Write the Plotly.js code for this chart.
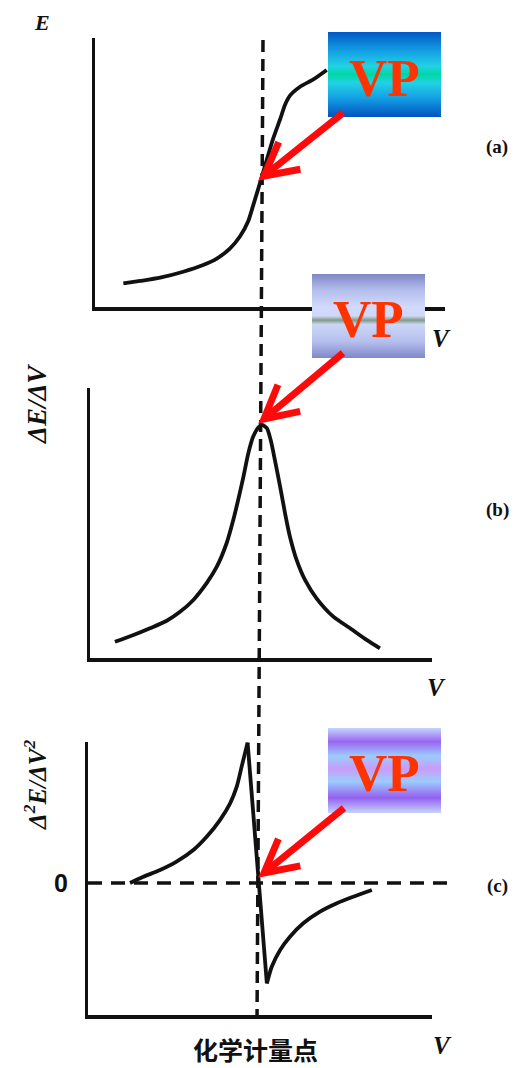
<!DOCTYPE html>
<html>
<head>
<meta charset="utf-8">
<script src="https://cdn.plot.ly/plotly-3.0.1.min.js"></script>
<style>html,body{margin:0;padding:0;background:#fff;}#chart{width:514px;height:1068px;}</style>
</head>
<body>
<div id="chart"></div>
<script>
// ---- Data (schematic; V in arbitrary volume units) ----
// (a) potential E vs titrant volume V
var aV = [0.81, 1.29, 1.86, 2.52, 3.09, 3.48, 3.86, 4.14, 4.38, 4.52, 4.67, 4.81, 4.95, 5.09, 5.29, 5.43, 5.57, 5.86, 6.24, 6.62];
var aE = [0.88, 0.97, 1.09, 1.31, 1.56, 1.80, 2.18, 2.62, 3.20, 3.78, 4.42, 5.04, 5.66, 6.26, 6.98, 7.52, 7.86, 8.19, 8.46, 8.81];
// (b) first derivative dE/dV
var bV = [0.57, 1.10, 1.57, 2.05, 2.43, 2.81, 3.19, 3.48, 3.76, 3.95, 4.09, 4.24, 4.38, 4.52, 4.67, 4.78, 4.91, 5.02, 5.14, 5.29, 5.43, 5.57, 5.76, 6.00, 6.33, 6.81, 7.29, 7.76, 8.14];
var bD = [0.60, 0.85, 1.10, 1.38, 1.71, 2.15, 2.77, 3.38, 4.25, 5.11, 5.85, 6.71, 7.58, 8.20, 8.54, 8.63, 8.51, 8.07, 7.33, 6.34, 5.36, 4.49, 3.63, 2.89, 2.21, 1.53, 1.10, 0.67, 0.36];
// (c) second derivative d2E/dV2 : rising branch, steep drop, recovering branch
var cRiseV = [1.00, 1.38, 1.86, 2.33, 2.81, 3.19, 3.57, 3.86, 4.05, 4.19, 4.36];
var cRiseD = [0.00, 0.23, 0.48, 0.79, 1.22, 1.71, 2.33, 2.95, 3.57, 4.31, 5.20];
var cDropV = [4.36, 4.91];
var cDropD = [5.20, -3.72];
var cRecV  = [4.91, 5.05, 5.29, 5.57, 5.95, 6.43, 6.91, 7.38, 7.91];
var cRecD  = [-3.72, -3.10, -2.48, -1.99, -1.49, -1.06, -0.75, -0.51, -0.26];
// equivalence point (stoichiometric point) volume
var vEq = 4.80;
var vEqBottom = 4.63; // the scanned dashed line leans slightly
// text labels
var panelTags = ['(a)', '(b)', '(c)'];
var yTitles = ['E', 'ΔE/ΔV', 'Δ<sup>2</sup>E/ΔV<sup>2</sup>'];
var xTitle = 'V';
var vpText = 'VP';
var eqLabel = '化学计量点';

// ---- Layout helpers (page is 514 x 1068 px, margins 0) ----
var W = 514, H = 1068;
function px(x) { return x / W; }
function py(y) { return 1 - y / H; }
// common V -> pixel mapping: pixel = 95 + 35 * V
function vToPx(v) { return 95 + 35 * v; }
function pxToV(p) { return (p - 95) / 35; }

function axisBase(extra) {
  var o = {showline: true, linecolor: '#111', linewidth: 3.5, showgrid: false, zeroline: false,
           ticks: '', showticklabels: false, fixedrange: true};
  for (var k in extra) o[k] = extra[k];
  return o;
}

function curveLine(shape) { return {color: '#111', width: 3.8, shape: shape, smoothing: 0.7}; }
var traces = [
  {x: aV, y: aE, xaxis: 'x', yaxis: 'y', mode: 'lines', line: curveLine('spline'), hoverinfo: 'skip'},
  {x: bV, y: bD, xaxis: 'x2', yaxis: 'y2', mode: 'lines', line: curveLine('spline'), hoverinfo: 'skip'},
  {x: cRiseV, y: cRiseD, xaxis: 'x3', yaxis: 'y3', mode: 'lines', line: curveLine('spline'), hoverinfo: 'skip'},
  {x: cDropV, y: cDropD, xaxis: 'x3', yaxis: 'y3', mode: 'lines', line: curveLine('linear'), hoverinfo: 'skip'},
  {x: cRecV, y: cRecD, xaxis: 'x3', yaxis: 'y3', mode: 'lines', line: curveLine('spline'), hoverinfo: 'skip'}
];

function gradSvg(stops, w, h) {
  var s = '<svg xmlns="http://www.w3.org/2000/svg" width="' + w + '" height="' + h + '">' +
          '<defs><linearGradient id="g" x1="0" y1="0" x2="0" y2="1">';
  stops.forEach(function (st) { s += '<stop offset="' + st[0] + '" stop-color="' + st[1] + '"/>'; });
  s += '</linearGradient></defs><rect width="' + w + '" height="' + h + '" fill="url(#g)"/></svg>';
  return 'data:image/svg+xml;charset=utf-8,' + encodeURIComponent(s);
}

var boxA = [[0, '#0058c4'], [0.22, '#149ee4'], [0.4, '#22d2e4'], [0.5, '#00d6a4'], [0.6, '#22d2e4'], [0.78, '#149ee4'], [1, '#0052be']];
var boxB = [[0, '#7f86c6'], [0.2, '#b6c0ee'], [0.4, '#d2dafc'], [0.5, '#d0d8f8'], [0.55, '#7f9a88'], [0.6, '#ccd6f6'], [0.8, '#b6c0ee'], [1, '#8088c8']];
var boxC = [[0, '#c4d4ff'], [0.16, '#9a66f0'], [0.33, '#9cccff'], [0.48, '#c89cf8'], [0.63, '#9cccff'], [0.82, '#9560f0'], [1, '#c4d4ff']];

var boxes = [
  {x: 328, y: 32, w: 113, h: 85, stops: boxA},
  {x: 312, y: 274, w: 113, h: 84, stops: boxB},
  {x: 328, y: 728, w: 113, h: 85, stops: boxC}
];
var images = boxes.map(function (b) {
  return {source: gradSvg(b.stops, b.w, b.h), xref: 'paper', yref: 'paper', x: px(b.x), y: py(b.y),
          sizex: b.w / W, sizey: b.h / H, sizing: 'stretch', xanchor: 'left', yanchor: 'top', layer: 'above'};
});

var serif = 'Liberation Serif, Times New Roman, serif';
var ann = [];
// VP texts
[[384, 78], [368, 319], [384, 773]].forEach(function (p) {
  ann.push({text: '<b>' + vpText + '</b>', xref: 'paper', yref: 'paper', x: px(p[0]), y: py(p[1]),
            xanchor: 'center', yanchor: 'middle', showarrow: false,
            font: {family: serif, size: 53, color: '#ff3300'}});
});
// panel tags
[[497, 147], [497, 510], [497, 886]].forEach(function (p, i) {
  ann.push({text: '<b>' + panelTags[i] + '</b>', xref: 'paper', yref: 'paper', x: px(p[0]), y: py(p[1]),
            xanchor: 'center', yanchor: 'middle', showarrow: false, font: {family: serif, size: 19, color: '#111'}});
});
// V labels
[[441, 339], [436, 687], [442, 1045]].forEach(function (p) {
  ann.push({text: '<b><i>' + xTitle + '</i></b>', xref: 'paper', yref: 'paper', x: px(p[0]), y: py(p[1]),
            xanchor: 'center', yanchor: 'middle', showarrow: false, font: {family: serif, size: 25, color: '#111'}});
});
// y titles
ann.push({text: '<b><i>' + yTitles[0] + '</i></b>', xref: 'paper', yref: 'paper', x: px(42), y: py(23),
          xanchor: 'center', yanchor: 'middle', showarrow: false, font: {family: serif, size: 22, color: '#111'}});
ann.push({text: '<b><i>' + yTitles[1] + '</i></b>', xref: 'paper', yref: 'paper', x: px(37), y: py(404),
          xanchor: 'center', yanchor: 'middle', showarrow: false, textangle: -90, font: {family: serif, size: 27, color: '#111'}});
ann.push({text: '<b><i>' + yTitles[2] + '</i></b>', xref: 'paper', yref: 'paper', x: px(35), y: py(785),
          xanchor: 'center', yanchor: 'middle', showarrow: false, textangle: -90, font: {family: serif, size: 25, color: '#111'}});
// zero label
ann.push({text: '<b>0</b>', xref: 'paper', yref: 'y3', x: px(61), y: 0,
          xanchor: 'center', yanchor: 'middle', showarrow: false, font: {family: 'Liberation Sans, Arial, sans-serif', size: 25, color: '#111'}});
// stoichiometric point label
ann.push({text: '<b>' + eqLabel + '</b>', xref: 'paper', yref: 'paper', x: px(255), y: py(1049),
          xanchor: 'center', yanchor: 'middle', showarrow: false, font: {family: 'Noto Sans CJK SC, sans-serif', size: 25, color: '#111'}});

var shapes = [
  // vertical dashed line through the equivalence point, spanning all panels
  {type: 'line', xref: 'paper', yref: 'paper', x0: px(vToPx(vEq)), y0: py(40), x1: px(vToPx(vEqBottom)), y1: py(1015),
   line: {color: '#111', width: 3.5, dash: '12px,7px'}, layer: 'below'},
  // zero line of panel (c)
  {type: 'line', xref: 'paper', yref: 'y3', x0: px(88), y0: 0, x1: px(450), y1: 0,
   line: {color: '#111', width: 3.5, dash: '14px,9px'}, layer: 'below'}
];

// red arrows drawn as a shaft plus an open chevron head: [tip, tail] in page pixels
var arrows = [[[264, 176], [343, 113]], [[264, 419], [343, 353]], [[264, 873], [344, 808]]];
var headLen = 37, headAng = 28 * Math.PI / 180;
arrows.forEach(function (a) {
  var tip = a[0], tail = a[1];
  var dx = tail[0] - tip[0], dy = tail[1] - tip[1];
  var L = Math.sqrt(dx * dx + dy * dy); dx /= L; dy /= L;
  function rot(t) { return [tip[0] + headLen * (dx * Math.cos(t) - dy * Math.sin(t)),
                            tip[1] + headLen * (dx * Math.sin(t) + dy * Math.cos(t))]; }
  var h1 = rot(headAng), h2 = rot(-headAng);
  shapes.push({type: 'line', xref: 'paper', yref: 'paper', x0: px(tail[0]), y0: py(tail[1]),
               x1: px(tip[0] + 3 * dx), y1: py(tip[1] + 3 * dy), line: {color: '#ff0a0a', width: 7}, layer: 'above'});
  shapes.push({type: 'path', xref: 'paper', yref: 'paper',
               path: 'M' + px(h1[0]) + ',' + py(h1[1]) + ' L' + px(tip[0]) + ',' + py(tip[1]) + ' L' + px(h2[0]) + ',' + py(h2[1]),
               line: {color: '#ff0a0a', width: 7}, fillcolor: 'rgba(0,0,0,0)', layer: 'above'});
});

var layout = {
  width: W, height: H, margin: {l: 0, r: 0, t: 0, b: 0},
  paper_bgcolor: '#fff', plot_bgcolor: 'rgba(0,0,0,0)', showlegend: false,
  xaxis: axisBase({domain: [px(95), px(445)], range: [pxToV(95), pxToV(445)], anchor: 'y'}),
  yaxis: axisBase({domain: [py(307), py(38)], range: [0, 10], anchor: 'x'}),
  xaxis2: axisBase({domain: [px(90), px(432)], range: [pxToV(90), pxToV(432)], anchor: 'y2'}),
  yaxis2: axisBase({domain: [py(658), py(388)], range: [0, 10], anchor: 'x2'}),
  xaxis3: axisBase({domain: [px(88), px(432)], range: [pxToV(88), pxToV(432)], anchor: 'y3'}),
  yaxis3: axisBase({domain: [py(1015), py(742)], range: [-(1015 - 883) / 27, (883 - 742) / 27], anchor: 'x3'}),
  images: images, annotations: ann, shapes: shapes
};

Plotly.newPlot('chart', traces, layout, {staticPlot: true, displayModeBar: false});
</script>
</body>
</html>
